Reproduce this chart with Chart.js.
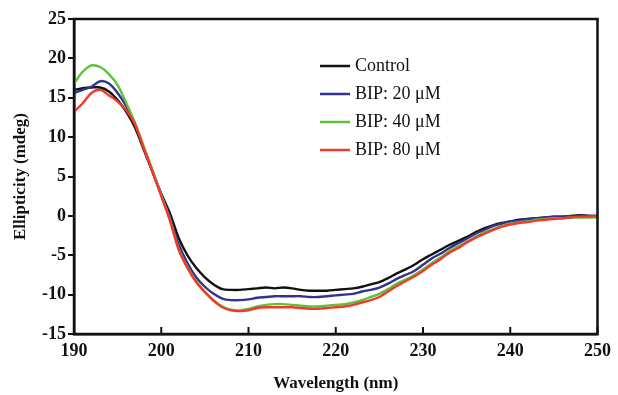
<!DOCTYPE html>
<html>
<head>
<meta charset="utf-8">
<script src="https://cdn.jsdelivr.net/npm/chart.js"></script>
<style>
  html, body { margin: 0; padding: 0; background: #fff; }
  #wrap { width: 618px; height: 395px; position: relative; }
</style>
</head>
<body>
<div id="wrap"><canvas id="cdChart"></canvas></div>
<script>
// wavelengths (nm), 1 nm steps
const wavelengths = [];
for (let w = 190; w <= 250; w++) wavelengths.push(w);

const control = [16.0, 16.2, 16.3, 16.3, 15.8, 14.7, 13.2, 11.2, 8.4, 5.6,
  2.8, 0.3, -2.8, -5.0, -6.6, -7.8, -8.7, -9.3, -9.4, -9.4,
  -9.3, -9.2, -9.1, -9.2, -9.1, -9.2, -9.4, -9.5, -9.5, -9.5,
  -9.4, -9.3, -9.2, -9.0, -8.7, -8.4, -7.9, -7.3, -6.8, -6.2,
  -5.5, -4.9, -4.3, -3.7, -3.2, -2.7, -2.1, -1.6, -1.2, -0.9,
  -0.7, -0.5, -0.4, -0.3, -0.2, -0.1, -0.1, 0.0, 0.1, 0.0, 0.0];

const bip20 = [15.6, 16.0, 16.4, 17.1, 16.8, 15.6, 13.9, 11.6, 8.6, 5.6,
  2.7, -0.2, -3.6, -6.0, -7.8, -9.0, -9.9, -10.5, -10.7, -10.7,
  -10.6, -10.4, -10.3, -10.2, -10.2, -10.2, -10.2, -10.3, -10.3, -10.2,
  -10.1, -10.0, -9.9, -9.6, -9.4, -9.1, -8.6, -8.0, -7.5, -7.0,
  -6.2, -5.4, -4.8, -4.1, -3.5, -2.9, -2.3, -1.8, -1.3, -1.0,
  -0.7, -0.6, -0.4, -0.3, -0.2, -0.1, -0.1, 0.0, 0.0, 0.0, 0.0];

const bip40 = [16.8, 18.3, 19.1, 18.9, 18.0, 16.6, 14.3, 11.8, 8.8, 5.8,
  2.6, -0.5, -4.2, -6.5, -8.3, -9.6, -10.7, -11.5, -11.9, -12.0,
  -11.8, -11.5, -11.3, -11.2, -11.2, -11.3, -11.4, -11.5, -11.5, -11.4,
  -11.3, -11.2, -11.0, -10.7, -10.3, -9.9, -9.3, -8.6, -8.1, -7.5,
  -6.8, -6.0, -5.3, -4.5, -3.9, -3.3, -2.7, -2.1, -1.7, -1.3,
  -1.0, -0.8, -0.7, -0.5, -0.4, -0.3, -0.3, -0.2, -0.2, -0.2, -0.2];

const bip80 = [13.2, 14.3, 15.6, 16.0, 15.3, 14.5, 13.4, 11.6, 8.6, 5.6,
  2.5, -0.6, -4.3, -6.6, -8.4, -9.7, -10.8, -11.6, -12.0, -12.1,
  -12.0, -11.7, -11.6, -11.6, -11.6, -11.6, -11.7, -11.8, -11.8, -11.7,
  -11.6, -11.5, -11.3, -11.0, -10.7, -10.3, -9.6, -8.9, -8.3, -7.7,
  -7.0, -6.2, -5.5, -4.7, -4.1, -3.4, -2.8, -2.3, -1.8, -1.4,
  -1.1, -0.9, -0.8, -0.6, -0.5, -0.4, -0.3, -0.2, -0.1, -0.1, 0.0];

const seriesNames = ["Control", "BIP: 20 \u03bcM", "BIP: 40 \u03bcM", "BIP: 80 \u03bcM"];
const seriesValues = [control, bip20, bip40, bip80];
const seriesColors = ["#111111", "#33338f", "#5cc23c", "#f2392b"];
const drawOrder = [3, 2, 1, 0];

const serif = "'Liberation Serif', 'Times New Roman', serif";

const datasets = seriesNames.map((name, i) => ({
  label: name,
  data: wavelengths.map((w, j) => ({ x: w, y: seriesValues[i][j] })),
  borderColor: seriesColors[i],
  backgroundColor: seriesColors[i],
  borderWidth: 2.4,
  pointRadius: 0,
  tension: 0.3,
  order: drawOrder[i]
}));

// frame, inward x ticks and the legend
const framePlugin = {
  id: "frame",
  afterDraw(chart) {
    const ctx = chart.ctx;
    const a = chart.chartArea;
    const xs = chart.scales.x;
    ctx.save();
    ctx.strokeStyle = "#111";
    ctx.lineWidth = 2.5;
    ctx.strokeRect(a.left, a.top, a.right - a.left, a.bottom - a.top);
    ctx.lineWidth = 2;
    xs.ticks.forEach(t => {
      const px = xs.getPixelForValue(t.value);
      ctx.beginPath();
      ctx.moveTo(px, a.bottom);
      ctx.lineTo(px, a.bottom - 7);
      ctx.stroke();
    });
    // legend
    ctx.font = "18px " + serif;
    ctx.textBaseline = "middle";
    ctx.textAlign = "left";
    chart.data.datasets.forEach((ds, i) => {
      const y = 66 + i * 28;
      ctx.strokeStyle = ds.borderColor;
      ctx.lineWidth = 2.5;
      ctx.beginPath();
      ctx.moveTo(320, y);
      ctx.lineTo(350, y);
      ctx.stroke();
      ctx.fillStyle = "#111";
      ctx.fillText(ds.label, 355, y);
    });
    ctx.restore();
  }
};

new Chart(document.getElementById("cdChart"), {
  type: "line",
  data: { datasets },
  options: {
    responsive: true,
    maintainAspectRatio: false,
    animation: false,
    layout: { padding: { top: 19, right: 16, left: 0, bottom: 0 } },
    plugins: { legend: { display: false }, tooltip: { enabled: false } },
    scales: {
      x: {
        type: "linear",
        min: 190, max: 250,
        afterFit: s => { s.height = 61; },
        ticks: { stepSize: 10, padding: 7, color: "#111", font: { family: serif, size: 18, weight: "bold" } },
        grid: { drawOnChartArea: false, drawTicks: false },
        border: { color: "#111", width: 2.5 },
        title: { display: true, text: "Wavelength (nm)", color: "#111", padding: { top: 0, bottom: 1 },
                 font: { family: serif, size: 17, weight: "bold" } }
      },
      y: {
        min: -15, max: 25,
        afterFit: s => { s.width = 74; },
        ticks: { stepSize: 5, padding: 2, color: "#111", font: { family: serif, size: 18, weight: "bold" } },
        grid: { drawOnChartArea: false, drawTicks: true, tickLength: 6, color: "#111", lineWidth: 2 },
        border: { color: "#111", width: 2.5 },
        title: { display: true, text: "Ellipticity (mdeg)", color: "#111", padding: { top: 10, bottom: 0 },
                 font: { family: serif, size: 17, weight: "bold" } }
      }
    }
  },
  plugins: [framePlugin]
});
</script>
</body>
</html>
